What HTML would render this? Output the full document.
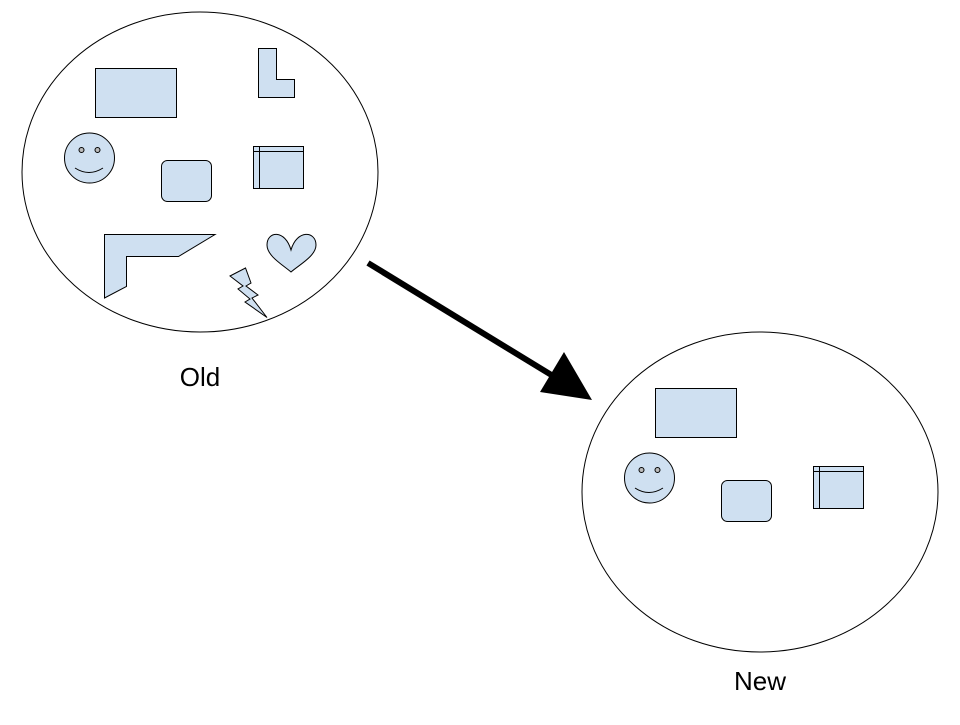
<!DOCTYPE html>
<html><head><style>body{margin:0;background:#fff}</style></head><body>
<svg width="960" height="720" viewBox="0 0 960 720" xmlns="http://www.w3.org/2000/svg">
<defs>
<g id="common" fill="#cfe0f1" stroke="#000" stroke-width="1">
<rect x="95.5" y="68.5" width="81" height="49"/>
<circle cx="89.5" cy="158" r="25"/>
<circle cx="81.5" cy="150" r="2.5" fill="#bbb"/>
<circle cx="97.5" cy="150" r="2.5" fill="#bbb"/>
<path d="M75 168 Q89 177 103 168" fill="none"/>
<rect x="161.5" y="160.5" width="50" height="41" rx="6"/>
<rect x="253.5" y="146.5" width="50" height="42"/>
<line x1="259.5" y1="146.5" x2="259.5" y2="188.5"/>
<line x1="253.5" y1="151.5" x2="303.5" y2="151.5"/>
</g>
</defs>
<ellipse cx="200" cy="172" rx="178" ry="160" fill="none" stroke="#000"/>
<ellipse cx="760" cy="492" rx="178" ry="160" fill="none" stroke="#000"/>
<use href="#common"/>
<use href="#common" transform="translate(560,320)"/>
<g fill="#cfe0f1" stroke="#000" stroke-width="1">
<path d="M258.5 48.5 H276.5 V79.5 H294.5 V97.5 H258.5 Z"/>
<path d="M104.5 234.5 H215 L178.5 256.5 H126.5 V286.5 L104.5 298 Z"/>
<path d="M291 250 C285 229 267 231 267 245 C267 256 283 265 291 272 C299 265 316 256 316 245 C316 231 297 229 291 250 Z"/>
<path d="M230 276 L245.5 268 L251 283 L246 286 L258 295 L252 298 L267 317.5 L245 302 L250 299 L238 289 L243 286 Z"/>
</g>
<line x1="368" y1="263" x2="558" y2="379" stroke="#000" stroke-width="6"/>
<polygon points="592,400 540,392 564,352" fill="#000"/>
<text x="200" y="386" font-family="Liberation Sans, sans-serif" font-size="26" text-anchor="middle">Old</text>
<text x="760" y="690" font-family="Liberation Sans, sans-serif" font-size="26" text-anchor="middle">New</text>
</svg>
</body></html>
